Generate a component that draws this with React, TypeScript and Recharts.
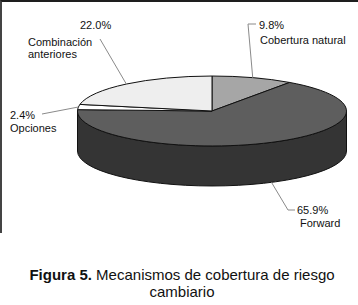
import { PieChart, Pie, Cell } from 'recharts';

// slice order: clockwise from 12 o'clock
const sliceNames = ['Cobertura natural', 'Forward', 'Opciones', 'Combinación anteriores'];
const sliceValues = [9.8, 65.9, 2.4, 22.0];
const topColors = ['#a6a6a6', '#5e5e5e', '#ffffff', '#eeeeee'];
const sideColors = ['#7a7a7a', '#343434', '#d8d8d8', '#c8c8c8'];

const data = sliceNames.map((name, i) => ({ name, value: sliceValues[i] }));

const CX = 207;
const CY = 106;
const RX = 134.5;
const TILT = 0.26; // ry / rx
const DEPTH = 40;
const RAD = Math.PI / 180;

const pt = (cx: number, cy: number, rx: number, a: number, dy = 0) => ({
    x: cx + rx * Math.cos(a * RAD),
    y: cy - rx * TILT * Math.sin(a * RAD) + dy,
});

// label layout (elbow point + text lines), per slice
const labelLayout = [
    { onSide: false, elbow: [248, 24], tick: 256, lines: [{ x: 259, y: 25, anchor: 'start', pct: true }, { x: 260, y: 40, anchor: 'start', text: 'Cobertura natural' }] },
    { onSide: true, elbow: [288, 210], tick: 295, lines: [{ x: 297, y: 210, anchor: 'start', pct: true }, { x: 300, y: 223, anchor: 'start', text: 'Forward' }] },
    { onSide: false, elbow: [42, 114], tick: 42, lines: [{ x: 10, y: 115, anchor: 'start', pct: true }, { x: 10, y: 128, anchor: 'start', text: 'Opciones' }] },
    { onSide: false, elbow: [100, 39], tick: 100, lines: [{ x: 80, y: 25, anchor: 'start', pct: true }, { x: 28, y: 41.5, anchor: 'start', text: 'Combinación' }, { x: 28, y: 54, anchor: 'start', text: 'anteriores' }] },
];

function Slice3D(props: any) {
    const { cx, cy, outerRadius, startAngle, endAngle, index } = props;
    const rx = outerRadius;
    const ry = rx * TILT;
    const hi = Math.max(startAngle, endAngle);
    const lo = Math.min(startAngle, endAngle);
    const large = hi - lo > 180 ? 1 : 0;
    const p1 = pt(cx, cy, rx, hi);
    const p2 = pt(cx, cy, rx, lo);
    const top = `M${cx},${cy} L${p1.x},${p1.y} A${rx},${ry} 0 ${large} 1 ${p2.x},${p2.y} Z`;

    // visible front wall: angles where the ellipse is below centre
    const walls: string[] = [];
    for (let n = -2; n <= 1; n++) {
        const a1 = Math.min(hi, 360 * n);
        const a2 = Math.max(lo, -180 + 360 * n);
        if (a1 - a2 > 0.01) {
            const t1 = pt(cx, cy, rx, a1);
            const t2 = pt(cx, cy, rx, a2);
            const b1 = pt(cx, cy, rx, a1, DEPTH);
            const b2 = pt(cx, cy, rx, a2, DEPTH);
            walls.push(
                `M${t1.x},${t1.y} A${rx},${ry} 0 0 1 ${t2.x},${t2.y} L${b2.x},${b2.y} A${rx},${ry} 0 0 0 ${b1.x},${b1.y} Z`
            );
        }
    }
    return (
        <g>
            {walls.map((d, i) => (
                <path key={i} d={d} fill={sideColors[index]} stroke="#111" strokeWidth={1} strokeLinejoin="round" />
            ))}
            <path d={top} fill={topColors[index]} stroke="#111" strokeWidth={1} strokeLinejoin="round" />
        </g>
    );
}

function SliceLabel(props: any) {
    const { cx, cy, outerRadius, midAngle, index, value } = props;
    const lay = labelLayout[index];
    const edge = pt(cx, cy, outerRadius, midAngle, lay.onSide ? DEPTH : 0);
    const [ex, ey] = lay.elbow;
    return (
        <g>
            <polyline
                points={`${edge.x},${edge.y} ${ex},${ey} ${lay.tick},${ey}`}
                fill="none"
                stroke="#8a8a8a"
                strokeWidth={1}
            />
            {lay.lines.map((l: any, i: number) => (
                <text
                    key={i}
                    x={l.x}
                    y={l.y}
                    textAnchor={l.anchor}
                    dominantBaseline="central"
                    fontSize={11}
                    fill="#111"
                    fontFamily="'Liberation Sans', Arial, sans-serif"
                >
                    {l.pct ? `${Number(value).toFixed(1)}%` : l.text}
                </text>
            ))}
        </g>
    );
}

export default function App() {
    return (
        <div style={{ position: 'absolute', left: 0, top: 0, width: 358, height: 305, background: '#fff', overflow: 'hidden' }}>
            <div
                style={{
                    position: 'absolute',
                    left: 0,
                    top: 0,
                    width: 380,
                    height: 233,
                    borderTop: '2px solid #1e1e1e',
                    borderLeft: '2px solid #444',
                    boxSizing: 'border-box',
                }}
            />
            <div style={{ position: 'absolute', left: 0, top: 0 }}>
                <PieChart width={358} height={240}>
                    <Pie
                        data={data}
                        dataKey="value"
                        nameKey="name"
                        cx={CX}
                        cy={CY}
                        outerRadius={RX}
                        startAngle={90}
                        endAngle={-270}
                        stroke="none"
                        shape={Slice3D}
                        activeShape={Slice3D}
                        inactiveShape={Slice3D}
                        label={SliceLabel}
                        labelLine={false}
                        isAnimationActive={false}
                    >
                        {data.map((d, i) => (
                            <Cell key={d.name} fill={topColors[i]} />
                        ))}
                    </Pie>
                </PieChart>
            </div>
            <div
                style={{
                    position: 'absolute',
                    left: 3,
                    top: 266,
                    width: 358,
                    textAlign: 'center',
                    fontFamily: "'Liberation Sans', Arial, sans-serif",
                    fontSize: 15,
                    lineHeight: '17px',
                    color: '#111',
                }}
            >
                <b>Figura 5.</b> Mecanismos de cobertura de riesgo
                <br />
                cambiario
            </div>
        </div>
    );
}
